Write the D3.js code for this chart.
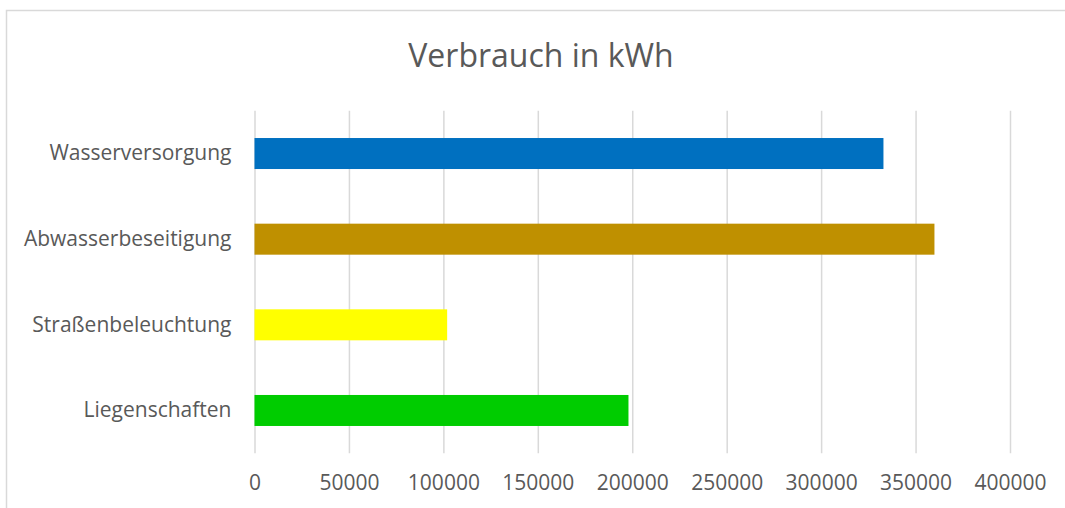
<!DOCTYPE html>
<html>
<head>
<meta charset="utf-8">
<script src="https://cdn.jsdelivr.net/npm/d3@7"></script>
<style>
  body { margin: 0; background: #fff; }
  svg text { font-family: "Open Sans", sans-serif; fill: #595959; }
</style>
</head>
<body>
<svg id="chart"></svg>
<script>
// Chart data
const categories = ["Wasserversorgung", "Abwasserbeseitigung", "Straßenbeleuchtung", "Liegenschaften"];
const values = [333000, 360000, 102000, 198000];
const tickValues = [0, 50000, 100000, 150000, 200000, 250000, 300000, 350000, 400000];
const barColors = ["#0070C0", "#BF9000", "#FFFF00", "#00CC00"];
const title = "Verbrauch in kWh";

let width = 1065, height = 508;
let svg = d3.select("#chart")
    .attr("width", width)
    .attr("height", height);

// chart border (runs off the right and bottom edges)
svg.append("rect")
    .attr("x", 6.5).attr("y", 10.5)
    .attr("width", 1080).attr("height", 520)
    .attr("fill", "#fff")
    .attr("stroke", "#d9d9d9")
    .attr("stroke-width", 1.5);

let plotTop = 110.7, plotBottom = 453.3;
let xScale = d3.scaleLinear().domain([0, 400000]).range([254.5, 1010]);
let yScale = d3.scaleBand().domain(categories).range([plotTop, plotBottom])
    .paddingInner(0.638).paddingOuter(0.319);

// gridlines
let grid = svg.append("g")
    .attr("transform", `translate(0,${plotBottom})`)
    .call(d3.axisBottom(xScale).tickValues(tickValues).tickSize(-(plotBottom - plotTop)).tickFormat(""));
grid.select(".domain").remove();
grid.selectAll("line").attr("stroke", "#d9d9d9").attr("stroke-width", 1.5);

// bars
svg.append("g")
    .selectAll("rect")
    .data(categories)
    .join("rect")
    .attr("x", xScale(0))
    .attr("y", d => yScale(d))
    .attr("width", (d, i) => xScale(values[i]) - xScale(0))
    .attr("height", yScale.bandwidth())
    .attr("fill", (d, i) => barColors[i]);

// x tick labels
let xAxis = svg.append("g")
    .attr("transform", `translate(0,${plotBottom})`)
    .call(d3.axisBottom(xScale).tickValues(tickValues).tickSize(0).tickPadding(22).tickFormat(d3.format("d")));
xAxis.select(".domain").remove();
xAxis.selectAll("text")
    .attr("font-size", "21px")
    .style("font-family", "'Open Sans', sans-serif")
    .attr("fill", "#595959");

// category labels
let yAxis = svg.append("g")
    .attr("transform", `translate(${xScale(0)},0)`)
    .call(d3.axisLeft(yScale).tickSize(0).tickPadding(23));
yAxis.select(".domain").remove();
yAxis.selectAll("text")
    .attr("font-size", "21px")
    .style("font-family", "'Open Sans', sans-serif")
    .attr("fill", "#595959");

// title
svg.append("text")
    .attr("x", 541)
    .attr("y", 67)
    .attr("text-anchor", "middle")
    .attr("font-size", "32px")
    .text(title);
</script>
</body>
</html>
